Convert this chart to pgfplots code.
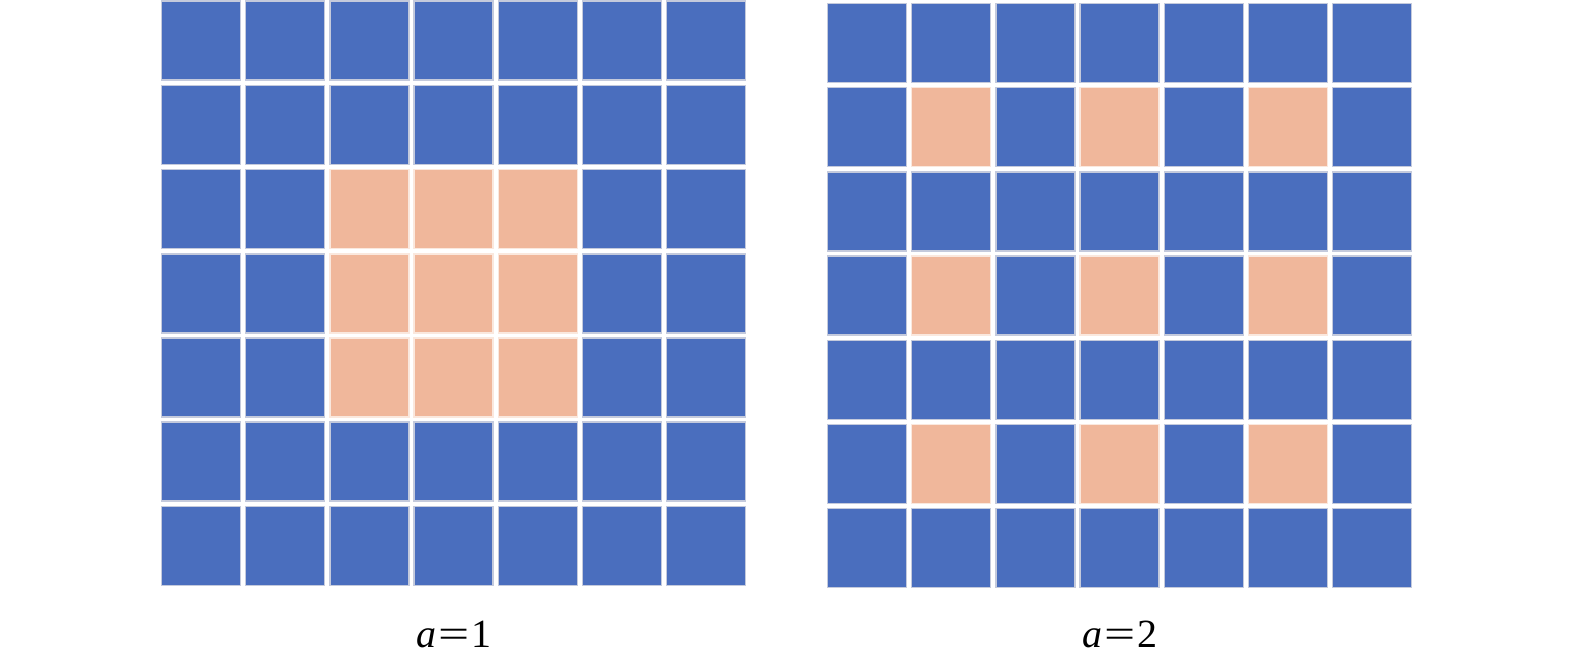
\documentclass[border=0pt]{standalone}
\usepackage{fontspec}
\setmainfont{Liberation Serif}
\usepackage{graphicx}
\usepackage{pgfplots}
\usepackage{pgfplotstable}
\pgfplotsset{compat=1.18}
\definecolor{cblue}{RGB}{74,110,190}
\definecolor{cpeach}{RGB}{240,183,155}
\definecolor{bedge}{RGB}{196,202,220}
\definecolor{pedge}{RGB}{250,232,222}

\pgfplotstableread{
x y c
0 0 b
1 0 b
2 0 b
3 0 b
4 0 b
5 0 b
6 0 b
0 1 b
1 1 b
2 1 b
3 1 b
4 1 b
5 1 b
6 1 b
0 2 b
1 2 b
2 2 o
3 2 o
4 2 o
5 2 b
6 2 b
0 3 b
1 3 b
2 3 o
3 3 o
4 3 o
5 3 b
6 3 b
0 4 b
1 4 b
2 4 o
3 4 o
4 4 o
5 4 b
6 4 b
0 5 b
1 5 b
2 5 b
3 5 b
4 5 b
5 5 b
6 5 b
0 6 b
1 6 b
2 6 b
3 6 b
4 6 b
5 6 b
6 6 b
}\gridA

\pgfplotstableread{
x y c
0 0 b
1 0 b
2 0 b
3 0 b
4 0 b
5 0 b
6 0 b
0 1 b
1 1 o
2 1 b
3 1 o
4 1 b
5 1 o
6 1 b
0 2 b
1 2 b
2 2 b
3 2 b
4 2 b
5 2 b
6 2 b
0 3 b
1 3 o
2 3 b
3 3 o
4 3 b
5 3 o
6 3 b
0 4 b
1 4 b
2 4 b
3 4 b
4 4 b
5 4 b
6 4 b
0 5 b
1 5 o
2 5 b
3 5 o
4 5 b
5 5 o
6 5 b
0 6 b
1 6 b
2 6 b
3 6 b
4 6 b
5 6 b
6 6 b
}\gridB

\pgfplotsset{
  gridstyle/.style={
    width=589.4bp, height=589.4bp, scale only axis,
    xmin=-0.5, xmax=6.5, ymin=-0.5, ymax=6.5,
    y dir=reverse, hide axis, clip=false,
  },
  cellplot/.style={
    scatter, only marks,
    scatter src=explicit symbolic,
    scatter/classes={
      b={mark=square*, mark size=39.5bp, fill=cblue, draw=bedge, line width=1.5bp},
      o={mark=square*, mark size=39.5bp, fill=cpeach, draw=pedge, line width=1.5bp}
    },
  },
}
\newcommand{\weq}{\hspace{0.06em}\scalebox{1.38}[1]{=}\hspace{0.04em}}

\begin{document}
\begin{tikzpicture}
\useasboundingbox (0,0) rectangle (1575bp,-665bp);
\begin{axis}[gridstyle, at={(158.9bp,1.4bp)}, anchor=north west]
  \addplot[cellplot] table[x=x, y=y, meta=c] {\gridA};
  \node[anchor=base, font=\fontsize{40bp}{46bp}\selectfont] at (axis cs:3,7.21) {\textit{a}\weq1};
\end{axis}
\begin{axis}[gridstyle, at={(824.9bp,-0.9bp)}, anchor=north west]
  \addplot[cellplot] table[x=x, y=y, meta=c] {\gridB};
  \node[anchor=base, font=\fontsize{40bp}{46bp}\selectfont] at (axis cs:3,7.185) {\textit{a}\weq2};
\end{axis}
\end{tikzpicture}
\end{document}
